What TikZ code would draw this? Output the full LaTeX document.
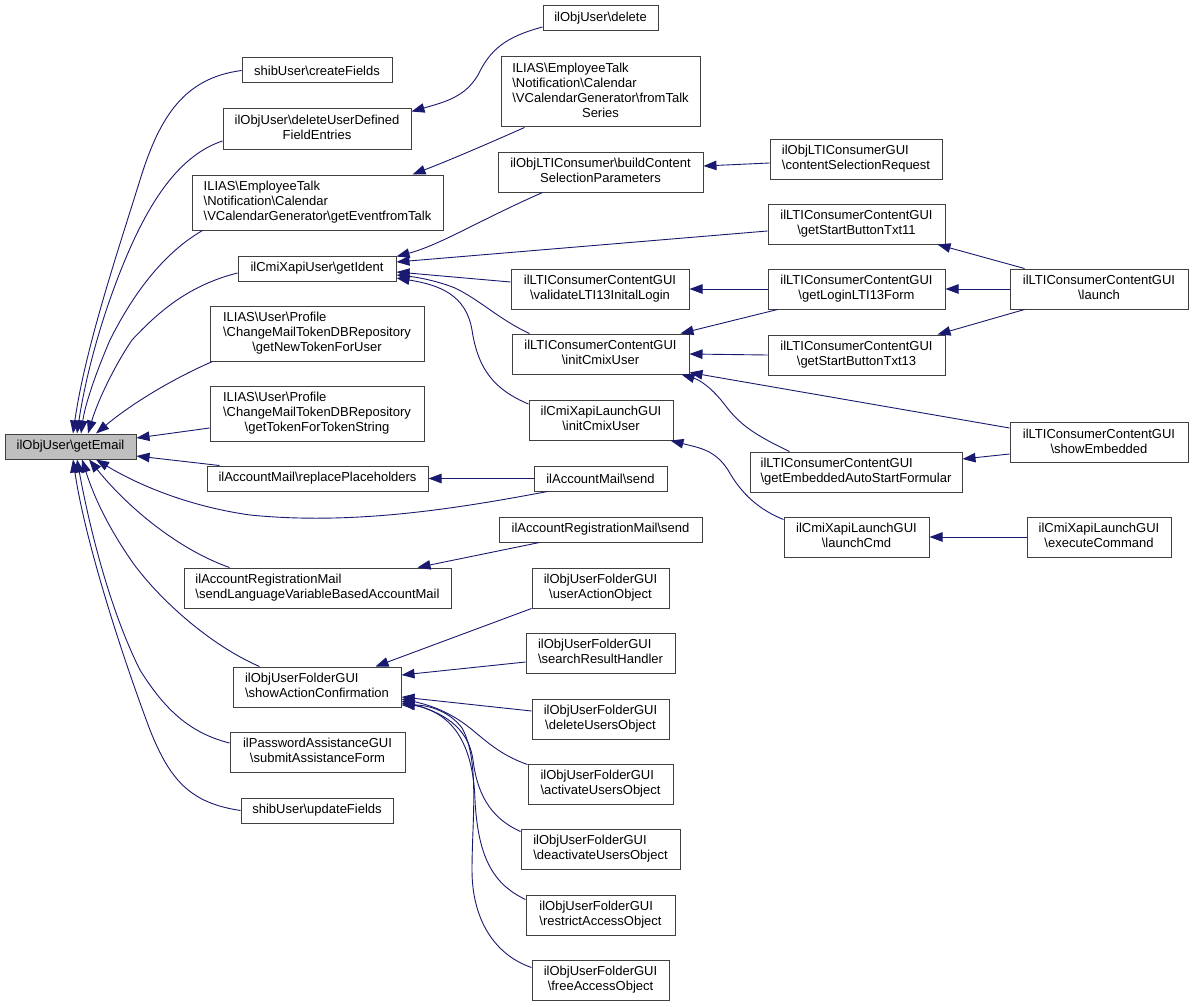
\documentclass[tikz,border=0pt]{standalone}
\usepackage{fontspec}
\setmainfont{Liberation Sans}
\usetikzlibrary{arrows.meta}
\definecolor{edgecol}{HTML}{191970}
\definecolor{boxborder}{HTML}{404040}
\definecolor{rootfill}{HTML}{BFBFBF}
\newcommand{\BS}{\textbackslash}
\newcommand{\lastc}[1]{\multicolumn{1}{@{}c@{}}{#1}}
\newcommand{\lbl}[2]{\begin{tabular}{@{}l@{}}#1\\\lastc{#2}\end{tabular}}
\begin{document}
\begin{tikzpicture}[x=1pt,y=-1pt,
  box/.style={draw=boxborder, fill=white, inner sep=0pt, align=center, line width=1pt,
    font=\fontsize{13}{15}\selectfont, minimum height=40pt},
  root/.style={box, fill=rootfill},
  edge/.style={draw=edgecol, line width=0.9pt, -{Triangle[length=13pt,width=9.5pt]}}]
\path[fill=white] (0,0) rectangle (1193,1006);
\useasboundingbox (0,0) rectangle (1193,1006);

% column 1
\node[root, minimum width=131pt, minimum height=25pt] (getEmail) at (70.5,446.5) {ilObjUser\BS getEmail};
\node[box, minimum width=150pt, minimum height=25pt] (ncreate) at (317,70.5) {shibUser\BS createFields};
\node[box, minimum width=188pt] (ndudf) at (317,129) {\lbl{ilObjUser\BS deleteUserDefined}{FieldEntries}};
\node[box, minimum width=251pt, minimum height=55pt] (nevt) at (317.5,202.5) {\lbl{ILIAS\BS EmployeeTalk\\\BS Notification\BS Calendar}{\BS VCalendarGenerator\BS getEventfromTalk}};
\node[box, minimum width=158pt, minimum height=25pt] (nident) at (317,268.5) {ilCmiXapiUser\BS getIdent};
\node[box, minimum width=214pt, minimum height=55pt] (nnewtok) at (317,333.5) {\lbl{ILIAS\BS User\BS Profile\\\BS ChangeMailTokenDBRepository}{\BS getNewTokenForUser}};
\node[box, minimum width=214pt, minimum height=55pt] (ntokstr) at (317,413.5) {\lbl{ILIAS\BS User\BS Profile\\\BS ChangeMailTokenDBRepository}{\BS getTokenForTokenString}};
\node[box, minimum width=221pt, minimum height=25pt] (nrepl) at (317.5,478.5) {ilAccountMail\BS replacePlaceholders};
\node[box, minimum width=267pt] (nslv) at (317.5,588) {\lbl{ilAccountRegistrationMail}{\BS sendLanguageVariableBasedAccountMail}};
\node[box, minimum width=168pt] (nsac) at (317,687) {\lbl{ilObjUserFolderGUI}{\BS showActionConfirmation}};
\node[box, minimum width=175pt] (nsaf) at (317.5,752) {\lbl{ilPasswordAssistanceGUI}{\BS submitAssistanceForm}};
\node[box, minimum width=152pt, minimum height=25pt] (nupd) at (317,810.5) {shibUser\BS updateFields};

% column 2
\node[box, minimum width=115pt, minimum height=25pt] (ndel) at (600.5,18.5) {ilObjUser\BS delete};
\node[box, minimum width=199pt, minimum height=70pt] (nfts) at (600.5,92) {\lbl{ILIAS\BS EmployeeTalk\\\BS Notification\BS Calendar\\\BS VCalendarGenerator\BS fromTalk}{Series}};
\node[box, minimum width=205pt] (nbcsp) at (600.5,172) {\lbl{ilObjLTIConsumer\BS buildContent}{SelectionParameters}};
\node[box, minimum width=178pt] (nval) at (600,289) {\lbl{ilLTIConsumerContentGUI}{\BS validateLTI13InitalLogin}};
\node[box, minimum width=177pt] (nicu) at (600.5,354) {\lbl{ilLTIConsumerContentGUI}{\BS initCmixUser}};
\node[box, minimum width=144pt] (nxicu) at (601,420) {\lbl{ilCmiXapiLaunchGUI}{\BS initCmixUser}};
\node[box, minimum width=133pt, minimum height=25pt] (nams) at (600.5,478.5) {ilAccountMail\BS send};
\node[box, minimum width=203pt, minimum height=25pt] (narms) at (600.5,529.5) {ilAccountRegistrationMail\BS send};
\node[box, minimum width=137pt] (nuao) at (600.5,588) {\lbl{ilObjUserFolderGUI}{\BS userActionObject}};
\node[box, minimum width=149pt] (nsrh) at (600.5,653) {\lbl{ilObjUserFolderGUI}{\BS searchResultHandler}};
\node[box, minimum width=137pt] (nduo) at (600.5,719) {\lbl{ilObjUserFolderGUI}{\BS deleteUsersObject}};
\node[box, minimum width=145pt] (nauo) at (600.5,784) {\lbl{ilObjUserFolderGUI}{\BS activateUsersObject}};
\node[box, minimum width=159pt] (ndauo) at (600.5,849) {\lbl{ilObjUserFolderGUI}{\BS deactivateUsersObject}};
\node[box, minimum width=149pt] (nrao) at (600.5,915) {\lbl{ilObjUserFolderGUI}{\BS restrictAccessObject}};
\node[box, minimum width=137pt] (nfao) at (600.5,980) {\lbl{ilObjUserFolderGUI}{\BS freeAccessObject}};

% column 3
\node[box, minimum width=172pt] (ncsr) at (856,159) {\lbl{ilObjLTIConsumerGUI}{\BS contentSelectionRequest}};
\node[box, minimum width=177pt] (nt11) at (856.5,224) {\lbl{ilLTIConsumerContentGUI}{\BS getStartButtonTxt11}};
\node[box, minimum width=177pt] (nlogin) at (856.5,289) {\lbl{ilLTIConsumerContentGUI}{\BS getLoginLTI13Form}};
\node[box, minimum width=177pt] (nt13) at (856.5,355) {\lbl{ilLTIConsumerContentGUI}{\BS getStartButtonTxt13}};
\node[box, minimum width=212pt] (nemb) at (856,472) {\lbl{ilLTIConsumerContentGUI}{\BS getEmbeddedAutoStartFormular}};
\node[box, minimum width=145pt] (nlcmd) at (856.5,537) {\lbl{ilCmiXapiLaunchGUI}{\BS launchCmd}};

% column 4
\node[box, minimum width=178pt] (nlaunch) at (1099,289) {\lbl{ilLTIConsumerContentGUI}{\BS launch}};
\node[box, minimum width=178pt] (nshow) at (1099,442.5) {\lbl{ilLTIConsumerContentGUI}{\BS showEmbedded}};
\node[box, minimum width=144pt] (nexec) at (1099,537) {\lbl{ilCmiXapiLaunchGUI}{\BS executeCommand}};

% edges into root
\draw[edge] (ncreate.west) .. controls (185,78) and (160,115) .. (140,180) .. controls (115,260) and (85,350) .. ([xshift=2.5pt]getEmail.north);
\draw[edge] ([yshift=-12pt]ndudf.west) .. controls (180,155) and (150,200) .. (125,260) .. controls (100,320) and (85,380) .. ([xshift=6.5pt]getEmail.north);
\draw[edge] ([xshift=11pt]nevt.south west) .. controls (160,255) and (130,300) .. (110,340) .. controls (95,375) and (85,405) .. ([xshift=10.5pt]getEmail.north);
\draw[edge] ([yshift=-4.5pt]nident.west) .. controls (190,285) and (160,310) .. (132,340) .. controls (115,365) and (98,400) .. ([xshift=17.5pt]getEmail.north);
\draw[edge] ([xshift=3pt]nnewtok.south west) .. controls (170,380) and (130,405) .. ([xshift=25.5pt]getEmail.north);
\draw[edge] ([yshift=-14.5pt]ntokstr.west) -- ([yshift=8.5pt]getEmail.east);
\draw[edge] ([xshift=13pt]nrepl.north west) -- ([yshift=-9.5pt]getEmail.east);
\draw[edge] ([xshift=14pt]nams.south west) .. controls (450,510) and (350,525) .. (250,515) .. controls (180,505) and (130,480) .. ([xshift=25.5pt]getEmail.south);
\draw[edge] ([xshift=46pt]nslv.north west) .. controls (180,550) and (130,510) .. ([xshift=18.5pt]getEmail.south);
\draw[edge] ([xshift=27pt]nsac.north west) .. controls (210,645) and (160,600) .. (133,563) .. controls (110,530) and (95,500) .. ([xshift=11.5pt]getEmail.south);
\draw[edge] ([yshift=9pt]nsaf.west) .. controls (190,733) and (165,710) .. (140,670) .. controls (110,610) and (90,530) .. ([xshift=6.5pt]getEmail.south);
\draw[edge] (nupd.west) .. controls (190,803) and (170,780) .. (150,730) .. controls (120,650) and (85,540) .. ([xshift=2.5pt]getEmail.south);

% column 2 -> column 1
\draw[edge] ([yshift=-8.5pt]ndel.west) .. controls (505,37) and (490,50) .. (478,75) .. controls (465,97) and (445,102) .. ([yshift=-3pt]ndudf.north east);
\draw[edge] ([xshift=24pt]nfts.south west) .. controls (485,145) and (450,160) .. ([xshift=-31pt]nevt.north east);
\draw[edge] ([xshift=45pt]nbcsp.south west) .. controls (480,220) and (440,245) .. ([yshift=-1pt]nident.north east);
\draw[edge] ([yshift=-7pt]nt11.west) -- ([yshift=6.5pt]nident.east);
\draw[edge] ([yshift=7pt]nval.west) -- ([yshift=-3.5pt]nident.east);
\draw[edge] ([xshift=18pt]nicu.north west) .. controls (500,320) and (480,300) .. (455,288) .. controls (435,280) and (415,277) .. ([yshift=-6.5pt]nident.east);
\draw[edge] ([yshift=16pt]nxicu.west) .. controls (495,390) and (478,370) .. (472,330) .. controls (466,295) and (440,285) .. ([yshift=-9.5pt]nident.east);
\draw[edge] (nams.west) -- (nrepl.east);
\draw[edge] ([xshift=41pt]narms.south west) -- ([xshift=-34pt]nslv.north east);
\draw[edge] (nuao.south west) -- ([xshift=-26pt]nsac.north east);
\draw[edge] ([yshift=-9pt]nsrh.west) -- ([yshift=12pt]nsac.east);
\draw[edge] ([yshift=8pt]nduo.west) -- ([yshift=-10pt]nsac.east);
\draw[edge] ([yshift=-1pt]nauo.north west) .. controls (500,755) and (485,740) .. (470,728) .. controls (450,712) and (430,705) .. ([yshift=-12pt]nsac.east);
\draw[edge] ([yshift=-3pt]ndauo.north west) .. controls (495,820) and (478,800) .. (473,760) .. controls (468,725) and (440,712) .. ([yshift=-14pt]nsac.east);
\draw[edge] ([yshift=-5pt]nrao.north west) .. controls (495,885) and (478,860) .. (475,800) .. controls (473,740) and (450,712) .. ([yshift=-16pt]nsac.east);
\draw[edge] ([yshift=-8pt]nfao.north west) .. controls (495,955) and (472,920) .. (472,870) .. controls (472,820) and (480,760) .. (462,728) .. controls (450,712) and (430,705) .. ([yshift=-18pt]nsac.east);

% column 3 -> column 2
\draw[edge] ([yshift=-4pt]ncsr.west) -- ([yshift=6pt]nbcsp.east);
\draw[edge] (nlogin.west) -- (nval.east);
\draw[edge] ([xshift=10pt]nlogin.south west) -- ([xshift=-9pt]nicu.north east);
\draw[edge] (nt13.west) -- (nicu.east);
\draw[edge] ([yshift=14.5pt]nshow.west) -- ([yshift=2pt]nicu.south east);
\draw[edge] ([xshift=40pt]nemb.north west) .. controls (755,435) and (740,425) .. (725,405) .. controls (712,388) and (700,380) .. ([xshift=-8pt]nicu.south east);
\draw[edge] ([yshift=-3pt]nlcmd.north west) .. controls (760,510) and (742,495) .. (728,470) .. controls (715,450) and (700,448) .. ([xshift=-3pt]nxicu.south east);

% column 4 -> column 3
\draw[edge] ([xshift=15pt]nlaunch.north west) -- ([xshift=-8pt]nt11.south east);
\draw[edge] (nlaunch.west) -- (nlogin.east);
\draw[edge] ([xshift=15pt]nlaunch.south west) -- ([xshift=-8pt]nt13.north east);
\draw[edge] ([yshift=-11.5pt]nshow.west) -- ([yshift=13pt]nemb.east);
\draw[edge] (nexec.west) -- (nlcmd.east);
\end{tikzpicture}
\end{document}
